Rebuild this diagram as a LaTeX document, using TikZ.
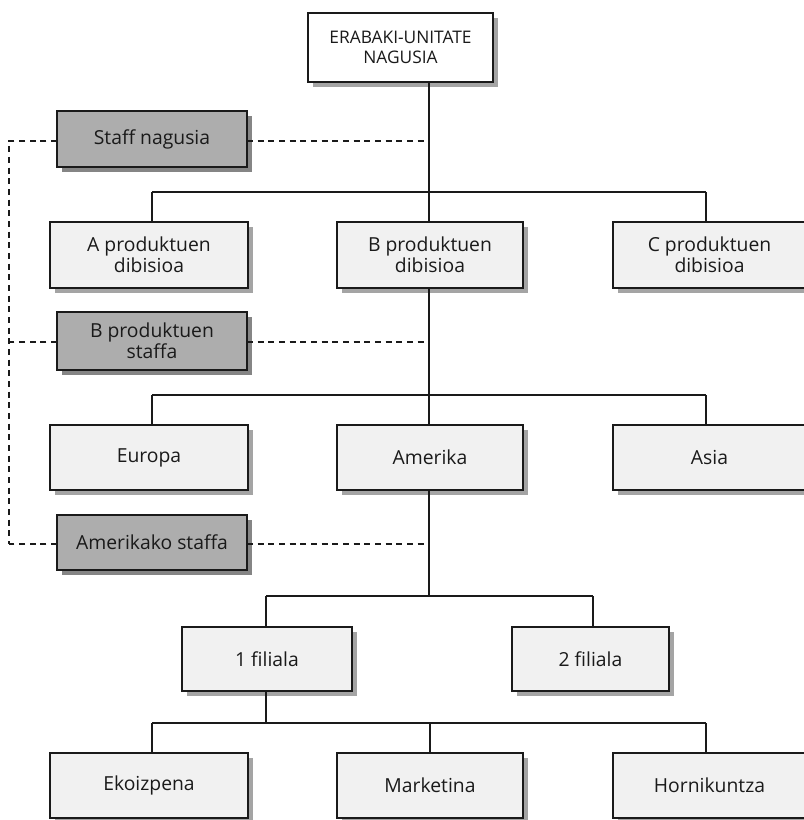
\documentclass[tikz,border=0pt]{standalone}
\usepackage{fontspec}
\setmainfont{Open Sans}
\usetikzlibrary{shadows}
\definecolor{boxfill}{HTML}{F1F1F1}
\definecolor{stafffill}{HTML}{ADADAD}
\definecolor{lightshadow}{HTML}{A4A4A4}
\definecolor{darkshadow}{HTML}{858585}
\definecolor{ink}{HTML}{1A1A1A}
\tikzset{
  unit/.style={draw=ink, line width=1.1pt, fill=boxfill, align=center,
    text=ink, inner sep=0pt, outer sep=0pt,
    font=\fontsize{14.5}{15.5}\selectfont,
    drop shadow={shadow xshift=3.8pt, shadow yshift=-3.8pt, fill=lightshadow, opacity=1}},
  topunit/.style={unit, fill=white, font=\fontsize{13}{15.5}\selectfont},
  staffunit/.style={unit, fill=stafffill,
    drop shadow={shadow xshift=3.8pt, shadow yshift=-3.8pt, fill=darkshadow, opacity=1}},
  link/.style={draw=ink, line width=1.1pt},
  stafflink/.style={draw=ink, line width=1.1pt, dash pattern=on 4.5pt off 3.5pt},
}
% name, left, top, right, bottom, style, text  (pixel grid, y downwards)
\newcommand\orgbox[7]{%
  \pgfmathsetmacro\bw{(#4-#2)*0.75}%
  \pgfmathsetmacro\bh{(#5-#3)*0.75}%
  \node[#6, minimum width=\bw pt, minimum height=\bh pt] (#1)
    at ({(#2+#4)/2},{(#3+#5)/2}) {#7};%
}
\begin{document}
\begin{tikzpicture}[x=0.75pt, y=-0.75pt]
\useasboundingbox (0,0) rectangle (803,820);

% junction points of the tree
\coordinate (t1) at (429,192);
\coordinate (t2) at (429,395);
\coordinate (t3) at (429,596);
\coordinate (t4) at (266,723);

% staff rail
\coordinate (s0) at (9,141);
\coordinate (s1) at (9,342);
\coordinate (s2) at (9,544);

% boxes
\orgbox{top}{308}{13}{493}{82}{topunit}{ERABAKI-UNITATE\\NAGUSIA}
\orgbox{sn}{57}{111}{247}{167}{staffunit}{Staff nagusia}
\orgbox{da}{50}{222}{248}{288}{unit}{A produktuen\\dibisioa}
\orgbox{db}{337}{222}{523}{288}{unit}{B produktuen\\dibisioa}
\orgbox{dc}{613}{222}{806}{288}{unit}{C produktuen\\dibisioa}
\orgbox{sb}{57}{312}{247}{370}{staffunit}{B produktuen\\staffa}
\orgbox{eu}{50}{425}{248}{490}{unit}{Europa}
\orgbox{am}{337}{425}{523}{490}{unit}{Amerika}
\orgbox{as}{613}{425}{806}{490}{unit}{Asia}
\orgbox{sa}{57}{515}{247}{570}{staffunit}{Amerikako staffa}
\orgbox{f1}{182}{627}{352}{691}{unit}{1 filiala}
\orgbox{f2}{512}{627}{669}{691}{unit}{2 filiala}
\orgbox{ek}{50}{753}{248}{818}{unit}{Ekoizpena}
\orgbox{mk}{337}{753}{523}{818}{unit}{Marketina}
\orgbox{hk}{613}{753}{806}{818}{unit}{Hornikuntza}

% level 1: top unit -> product divisions
\draw[link] (top.south -| t1) -- (db.north -| t1);
\draw[link] (t1 -| 152,0) -- (t1 -| 706,0);
\draw[link] (t1 -| 152,0) -- (da.north -| 152,0);
\draw[link] (t1 -| 706,0) -- (dc.north -| 706,0);

% level 2: B division -> regions
\draw[link] (db.south -| t2) -- (am.north -| t2);
\draw[link] (t2 -| 152,0) -- (t2 -| 706,0);
\draw[link] (t2 -| 152,0) -- (eu.north -| 152,0);
\draw[link] (t2 -| 706,0) -- (as.north -| 706,0);

% level 3: Amerika -> subsidiaries
\draw[link] (am.south -| t3) -- (t3);
\draw[link] (t3 -| 266,0) -- (t3 -| 593,0);
\draw[link] (t3 -| 266,0) -- (f1.north -| 266,0);
\draw[link] (t3 -| 593,0) -- (f2.north -| 593,0);

% level 4: 1 filiala -> functions
\draw[link] (f1.south -| t4) -- (t4);
\draw[link] (t4 -| 152,0) -- (t4 -| 706,0);
\draw[link] (t4 -| 152,0) -- (ek.north -| 152,0);
\draw[link] (t4 -| 430,0) -- (mk.north -| 430,0);
\draw[link] (t4 -| 706,0) -- (hk.north -| 706,0);

% staff links
\draw[stafflink] (sn.east |- s0) -- (s0 -| t1);
\draw[stafflink] (sn.west |- s0) -- (s0) -- (s2);
\draw[stafflink] (sb.east |- s1) -- (s1 -| t1);
\draw[stafflink] (sb.west |- s1) -- (s1);
\draw[stafflink] (sa.east |- s2) -- (s2 -| t1);
\draw[stafflink] (sa.west |- s2) -- (s2);
\end{tikzpicture}
\end{document}
